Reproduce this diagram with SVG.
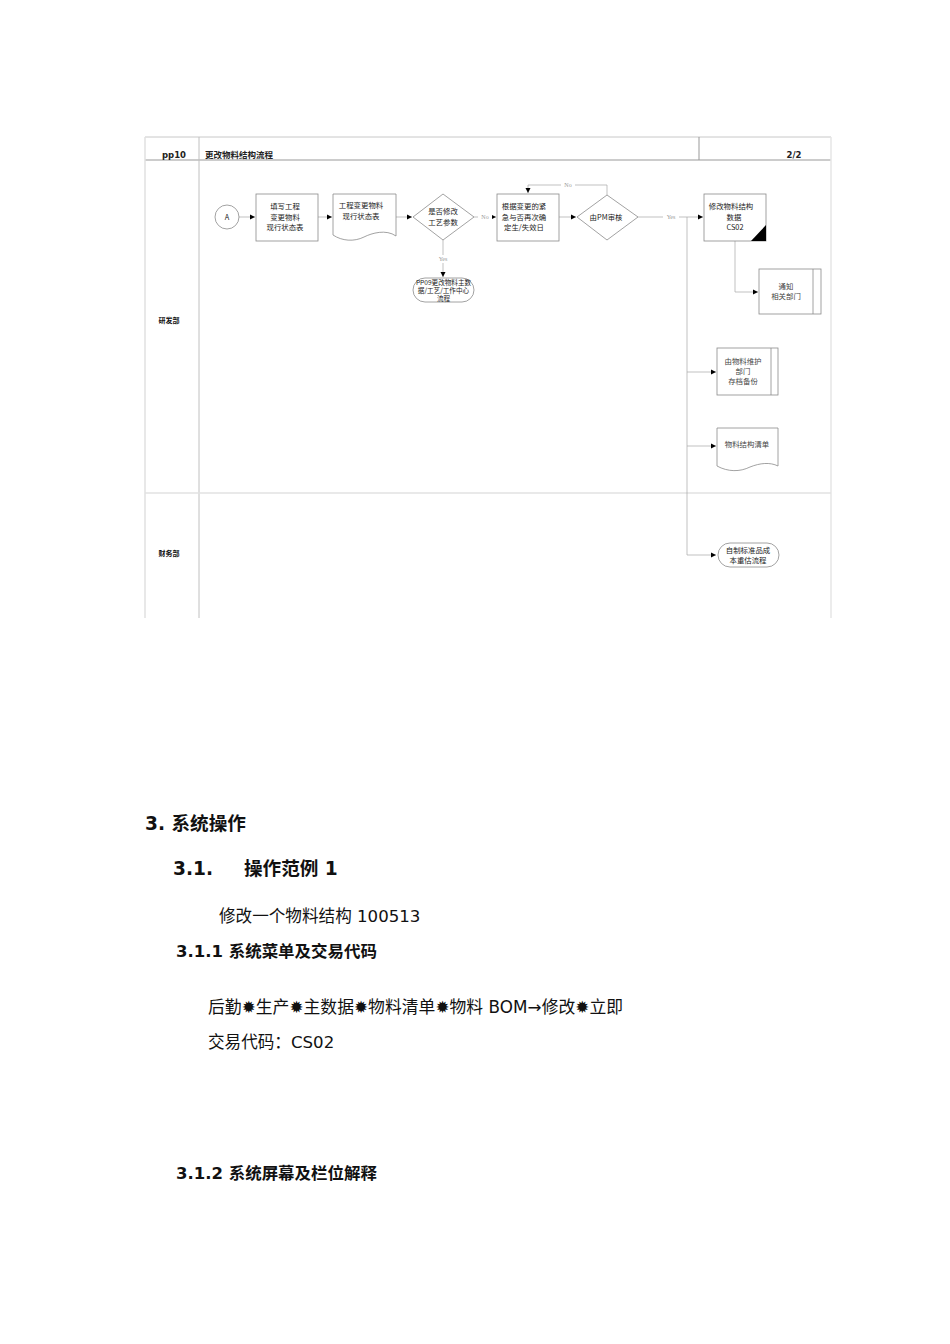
<svg xmlns="http://www.w3.org/2000/svg" width="950" height="1344" viewBox="0 0 950 1344">
<defs>
<marker id="ah" markerWidth="6" markerHeight="6" refX="5" refY="3" orient="auto" markerUnits="userSpaceOnUse">
<path d="M0,0.5 L5,3 L0,5.5 Z" fill="#000"/>
</marker>
<style>
.frame{stroke:#c8c8c8;stroke-width:1;fill:none}
.lane{stroke:#e2e2e2;stroke-width:1.5;fill:none}
.shape{fill:#fff;stroke:#8a8a8a;stroke-width:0.8}
.conn{stroke:#a8a8a8;stroke-width:0.7;fill:none}
.t{font-family:"Noto Sans CJK SC","Noto Sans",sans-serif;font-size:7.4px;fill:#1a1a1a;text-anchor:middle}
.ts{font-family:"Noto Sans CJK SC",serif;font-size:7.4px;fill:#444;text-anchor:middle}
.lbl{font-family:"Liberation Serif","Noto Sans CJK SC",serif;font-size:6px;fill:#999;text-anchor:middle}
.hd{font-family:"DejaVu Sans","Noto Sans CJK SC",sans-serif;font-size:8.5px;font-weight:bold;fill:#222}
.h1{font-family:"DejaVu Sans","Noto Sans CJK SC",sans-serif;font-weight:bold;fill:#111}
.body{font-family:"DejaVu Sans","Noto Sans CJK SC",sans-serif;fill:#111}
</style>
</defs>

<g id="frame">
<line class="frame" x1="145" y1="137" x2="831" y2="137"/>
<line x1="145" y1="160" x2="831" y2="160" stroke="#999" stroke-width="1"/>
<line x1="145" y1="137" x2="145" y2="618" stroke="#e0e0e0" stroke-width="1.5"/>
<line x1="199" y1="137" x2="199" y2="618" stroke="#c0c0c0" stroke-width="1"/>
<line x1="699" y1="137" x2="699" y2="160" stroke="#999" stroke-width="1"/>
<line x1="831" y1="137" x2="831" y2="618" stroke="#e6e6e6" stroke-width="1.5"/>
<line class="lane" x1="145" y1="493" x2="831" y2="493"/>
<text class="hd" x="174" y="158" text-anchor="middle">pp10</text>
<text class="hd" x="205" y="158">更改物料结构流程</text>
<text class="hd" x="794" y="158" text-anchor="middle">2/2</text>
<text class="hd" x="169" y="323" text-anchor="middle" style="font-size:7px;fill:#111">研发部</text>
<text class="hd" x="169" y="556" text-anchor="middle" style="font-size:7px;fill:#111">财务部</text>
</g>

<g id="connectors">
<line class="conn" x1="239" y1="217" x2="255" y2="217" marker-end="url(#ah)"/>
<line class="conn" x1="318" y1="217" x2="332" y2="217" marker-end="url(#ah)"/>
<line class="conn" x1="396" y1="217" x2="412" y2="217" marker-end="url(#ah)"/>
<line class="conn" x1="474" y1="217" x2="496" y2="217" marker-end="url(#ah)"/>
<line class="conn" x1="443" y1="240" x2="443" y2="277" marker-end="url(#ah)"/>
<line class="conn" x1="559" y1="217" x2="576" y2="217" marker-end="url(#ah)"/>
<polyline class="conn" points="607,195 607,185 528,185 528,193" marker-end="url(#ah)"/>
<line class="conn" x1="638" y1="217" x2="703" y2="217" marker-end="url(#ah)"/>
<polyline class="conn" points="687,217 687,555 716,555" marker-end="url(#ah)"/>
<line class="conn" x1="687" y1="372" x2="716" y2="372" marker-end="url(#ah)"/>
<line class="conn" x1="687" y1="446" x2="716" y2="446" marker-end="url(#ah)"/>
<polyline class="conn" points="735,241 735,292 758,292" marker-end="url(#ah)"/>
<rect x="478" y="213" width="14" height="8" fill="#fff"/>
<text class="lbl" x="485" y="219">No</text>
<rect x="437" y="255" width="12" height="8" fill="#fff"/>
<text class="lbl" x="443" y="261">Yes</text>
<rect x="561" y="181" width="14" height="8" fill="#fff"/>
<text class="lbl" x="568" y="187">No</text>
<rect x="663" y="213" width="16" height="8" fill="#fff"/>
<text class="lbl" x="671" y="219">Yes</text>
</g>

<g id="nodeA">
<circle cx="227" cy="217" r="12" class="shape"/>
<text class="t" x="227" y="220">A</text>
</g>

<g id="node-fill">
<rect x="256" y="194" width="62" height="47" class="shape"/>
<text class="t" x="285" y="209">填写工程</text>
<text class="t" x="285" y="219.5">变更物料</text>
<text class="t" x="285" y="230">现行状态表</text>
</g>

<g id="node-doc1">
<path class="shape" d="M333,194 H396 V236 C386,229 372,233 364,237 C354,242 342,241 333,235 Z"/>
<text class="t" x="361" y="208">工程变更物料</text>
<text class="t" x="361" y="218.5">现行状态表</text>
</g>

<g id="node-dec1">
<path class="shape" d="M443,194 L474,217 L443,240 L413,217 Z"/>
<text class="t" x="443" y="214">是否修改</text>
<text class="t" x="443" y="224.5">工艺参数</text>
</g>

<g id="node-pp09">
<rect x="413" y="278" width="61" height="24" rx="12" ry="12" class="shape"/>
<text class="t" x="443.5" y="284.5" style="font-size:6.6px">PP09更改物料主数</text>
<text class="t" x="443.5" y="292.5" style="font-size:6.6px">据/工艺/工作中心</text>
<text class="t" x="443.5" y="300.5" style="font-size:6.6px">流程</text>
</g>

<g id="node-date">
<rect x="497" y="194" width="62" height="47" class="shape"/>
<text class="t" x="524" y="209">根据变更的紧</text>
<text class="t" x="524" y="219.5">急与否再次确</text>
<text class="t" x="524" y="230">定生/失效日</text>
</g>

<g id="node-dec2">
<path class="shape" d="M607,195 L638,217 L607,240 L577,217 Z"/>
<text class="t" x="606" y="220">由PM审核</text>
</g>

<g id="node-cs02">
<rect x="704" y="194" width="62" height="47" class="shape"/>
<path d="M751,241 L766,241 L766,225 Z" fill="#000"/>
<text class="t" x="731" y="209">修改物料结构</text>
<text class="t" x="734" y="219.5">数据</text>
<text class="t" x="735" y="230">CS02</text>
</g>

<g id="node-notify">
<rect x="759" y="269" width="62" height="45" class="shape"/>
<line x1="813" y1="269" x2="813" y2="314" stroke="#8a8a8a" stroke-width="0.8"/>
<text class="ts" x="786" y="289">通知</text>
<text class="ts" x="786" y="299">相关部门</text>
</g>

<g id="node-archive">
<rect x="717" y="348" width="61" height="47" class="shape"/>
<line x1="771" y1="348" x2="771" y2="395" stroke="#8a8a8a" stroke-width="0.8"/>
<text class="ts" x="743" y="364">由物料维护</text>
<text class="ts" x="743" y="374">部门</text>
<text class="ts" x="743" y="384">存档备份</text>
</g>

<g id="node-bomlist">
<path class="shape" d="M717,428 H778 V466 C770,462 760,463 750,467 C740,472 728,472 717,466 Z"/>
<text class="ts" x="747" y="447">物料结构清单</text>
</g>

<g id="node-cost">
<rect x="718" y="543" width="61" height="24" rx="12" ry="12" class="shape"/>
<text class="t" x="748" y="552.5">自制标准品成</text>
<text class="t" x="748" y="562.5">本重估流程</text>
</g>

<g id="text-section">
<text class="h1" x="145" y="830" style="font-size:18.6px">3. 系统操作</text>
<text class="h1" x="173" y="875" style="font-size:18.6px">3.1.</text>
<text class="h1" x="244" y="875" style="font-size:18.6px">操作范例 1</text>
<text class="body" x="219" y="922" style="font-size:16.6px">修改一个物料结构 100513</text>
<text class="h1" x="176" y="957" style="font-size:16.4px" textLength="201" lengthAdjust="spacingAndGlyphs">3.1.1 系统菜单及交易代码</text>
<text class="body" x="208" y="1013" style="font-size:16.8px" textLength="415" lengthAdjust="spacing">后勤✹生产✹主数据✹物料清单✹物料 BOM→修改✹立即</text>
<text class="body" x="208" y="1048" style="font-size:16.6px">交易代码：CS02</text>
<text class="h1" x="176" y="1179" style="font-size:16.4px" textLength="201" lengthAdjust="spacingAndGlyphs">3.1.2 系统屏幕及栏位解释</text>
</g>
</svg>
